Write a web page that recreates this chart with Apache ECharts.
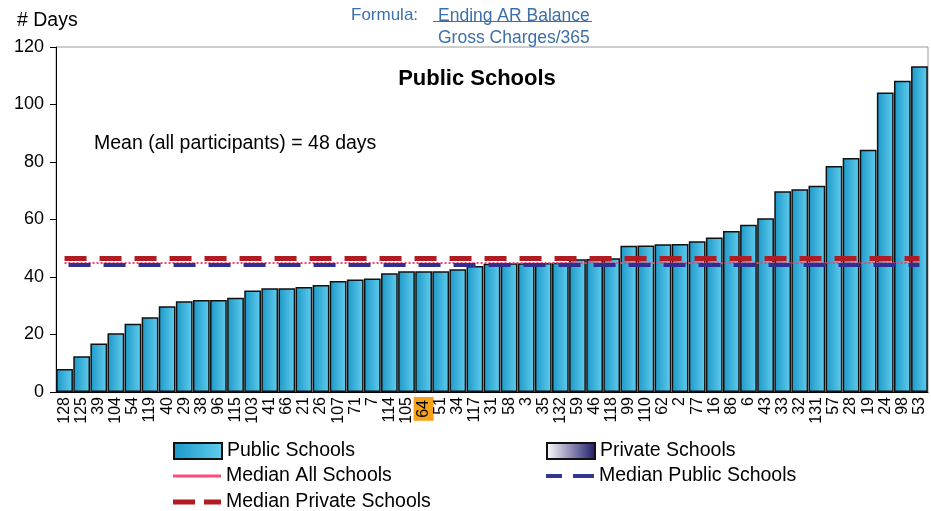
<!DOCTYPE html>
<html><head><meta charset="utf-8">
<script src="https://cdn.jsdelivr.net/npm/echarts@6/dist/echarts.min.js"></script>
<style>html,body{margin:0;padding:0;background:#fff}#c{width:931px;height:511px}</style>
</head><body><div id="c"></div>
<script>
const categories = ['128','125','39','104','54','119','40','29','38','96','115','103','41','66','21','26','107','71','7','114','105','64','51','34','117','31','58','3','35','132','59','46','118','99','110','62','2','77','16','86','6','43','33','32','131','57','28','19','24','98','53'];
const publicDays = [8.0,12.4,16.9,20.4,23.7,26.0,29.8,31.6,32.0,32.0,32.8,35.3,36.1,36.1,36.5,37.2,38.6,39.1,39.5,41.3,42.0,42.0,42.0,42.7,43.8,44.6,44.8,44.8,44.9,45.0,46.2,46.3,46.5,50.9,51.0,51.4,51.5,52.4,53.7,56.0,58.2,60.4,69.8,70.5,71.7,78.6,81.4,84.3,104.2,108.3,113.3];
const privateDays = [];
const medianAll = 44.8;
const medianPublic = 44.3;
const medianPrivate = 46.4;
const yTicks = [0,20,40,60,80,100,120];
const highlightCat = '64';

const chart = echarts.init(document.getElementById('c'));
const F = 'Liberation Sans, Arial, sans-serif';
function medLine(v){ return [[{coord:[categories[0], v]},{coord:[categories[categories.length-1], v]}]]; }
const LT = {fontFamily:F,fontSize:19.5,color:'#000'};
chart.setOption({
  animation:false,
  textStyle:{fontFamily:F},
  grid:{left:56,right:3,top:47,bottom:119,show:true,borderColor:'#9a9a9a',borderWidth:1,backgroundColor:'transparent'},
  title:[
    {text:'Public Schools',left:472,top:63,textAlign:'center',textStyle:{fontFamily:F,fontSize:22,fontWeight:'bold',color:'#000'}},
    {text:'Mean (all participants) = 48 days',left:89,top:129,textStyle:{fontFamily:F,fontSize:19.5,fontWeight:'normal',color:'#000'}},
    {text:'# Days',left:12,top:6,textStyle:{fontFamily:F,fontSize:19.5,fontWeight:'normal',color:'#000'}},
    {text:'Formula:',left:346,top:2,textStyle:{fontFamily:F,fontSize:17,fontWeight:'normal',color:'#3d6fa8'}},
    {text:'Ending AR Balance',left:433,top:2,textStyle:{fontFamily:F,fontSize:17.5,fontWeight:'normal',color:'#3d6fa8'}},
    {text:'Gross Charges/365',left:433,top:24,textStyle:{fontFamily:F,fontSize:17.5,fontWeight:'normal',color:'#3d6fa8'}}
  ],
  graphic:[{type:'line',shape:{x1:433,y1:21.5,x2:592,y2:21.5},style:{stroke:'#3d6fa8',lineWidth:1}}],
  legend:[
    {data:[{name:'Public Schools',icon:'rect'}],left:168,top:436,itemWidth:48,itemHeight:16,itemGap:5,textStyle:LT},
    {data:[{name:'Private Schools',icon:'rect'}],left:541,top:436,itemWidth:48,itemHeight:16,itemGap:5,textStyle:LT},
    {data:[{name:'Median All Schools',icon:'rect'}],left:168,top:461,itemWidth:48,itemHeight:3,itemGap:5,textStyle:LT},
    {data:[{name:'Median Public Schools',icon:'path://M0,0h16v4h-16z M27,0h21v4h-21z'}],left:541,top:461,itemWidth:48,itemHeight:4,itemGap:5,textStyle:LT},
    {data:[{name:'Median Private Schools',icon:'path://M0,0h22v5h-22z M31,0h17v5h-17z'}],left:168,top:487,itemWidth:48,itemHeight:5,itemGap:5,textStyle:LT}
  ],
  xAxis:{type:'category',data:categories,
    axisLine:{lineStyle:{color:'#000',width:1}},axisTick:{show:false},
    axisLabel:{interval:0,rotate:90,fontSize:16,color:'#000',fontFamily:F,margin:5,
      formatter:v=> v===highlightCat ? '{h|'+v+'}' : v,
      rich:{h:{backgroundColor:'#f7a21b',padding:[2,3,2,3],fontSize:16,color:'#000',fontFamily:F}}}},
  yAxis:{type:'value',min:0,max:120,interval:20,
    axisLine:{show:true,lineStyle:{color:'#000'}},axisTick:{show:true,length:6,lineStyle:{color:'#000'}},
    splitLine:{show:false},
    axisLabel:{fontSize:18,color:'#000',fontFamily:F,margin:12,formatter:v=> yTicks.includes(v)? String(v):''}},
  series:[
    {name:'Public Schools',type:'bar',data:publicDays,barCategoryGap:'2%',barGap:'-100%',
      itemStyle:{color:new echarts.graphic.LinearGradient(0,0,1,0,[{offset:0,color:'#1b98c8'},{offset:1,color:'#62cdee'}]),borderColor:'#111',borderWidth:1.5}},
    {name:'Private Schools',type:'bar',data:privateDays,barGap:'-100%',
      itemStyle:{color:new echarts.graphic.LinearGradient(0,0,1,0,[{offset:0,color:'#ffffff'},{offset:1,color:'#1e1a6a'}]),borderColor:'#111',borderWidth:1.5}},
    {name:'Median All Schools',type:'line',data:[],symbol:'none',
      lineStyle:{color:'#ff3d6e',width:2,type:'dotted'},itemStyle:{color:'#ff4d78'},
      markLine:{silent:true,symbol:'none',label:{show:false},lineStyle:{color:'#ff3d6e',width:2,type:'dotted'},data:medLine(medianAll)}},
    {name:'Median Public Schools',type:'line',data:[],symbol:'none',
      lineStyle:{color:'#2e2f8f',width:4},itemStyle:{color:'#34358f'},
      markLine:{silent:true,symbol:'none',label:{show:false},lineStyle:{color:'#2e2f8f',width:4,type:[22,13],dashOffset:-4},data:medLine(medianPublic)}},
    {name:'Median Private Schools',type:'line',data:[],symbol:'none',
      lineStyle:{color:'#b01c22',width:5},itemStyle:{color:'#b01c22'},
      markLine:{silent:true,symbol:'none',label:{show:false},lineStyle:{color:'#b01c22',width:5,type:[22,13]},data:medLine(medianPrivate)}}
  ]
});
</script></body></html>
